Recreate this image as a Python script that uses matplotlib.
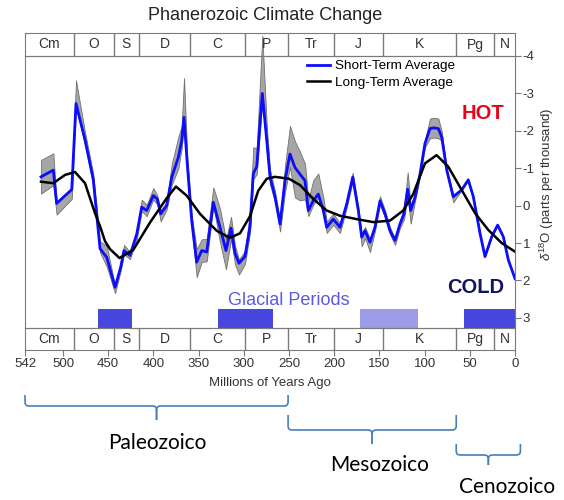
import numpy as np
import matplotlib.pyplot as plt
from matplotlib.path import Path
from matplotlib.patches import PathPatch

plt.rcParams['font.family'] = ['Liberation Sans', 'DejaVu Sans']
plt.rcParams['axes.unicode_minus'] = False
plt.rcParams['mathtext.fontset'] = 'custom'
plt.rcParams['mathtext.rm'] = 'Liberation Sans'
plt.rcParams['mathtext.it'] = 'Liberation Sans:italic'

# geologic periods (Ma)
periods = ['Cm', 'O', 'S', 'D', 'C', 'P', 'Tr', 'J', 'K', 'Pg', 'N']
period_bounds = [542, 488, 444, 416, 359, 299, 251, 200, 146, 65, 23, 0]

# short-term average of d18O, with the width of the grey band above/below
short_age = [524.3, 510.7, 507.0, 490.3, 485.6, 475.6, 466.5, 459.0, 451.6, 442.4,
             436.1, 432.5, 425.9, 418.4, 412.9, 407.4, 400.1, 395.7, 391.9, 385.3,
             379.7, 372.4, 368.7, 366.1, 362.5, 357.6, 352.1, 346.5, 341.0, 333.7,
             326.3, 319.7, 314.1, 309.7, 305.3, 298.7, 293.1, 289.5, 285.7, 279.5,
             274.6, 271.0, 265.5, 259.9, 254.4, 248.9, 243.4, 237.8, 232.3, 228.6,
             223.1, 217.6, 212.0, 208.3, 201.0, 193.6, 186.2, 179.5, 173.3, 169.6,
             165.9, 160.4, 154.9, 149.3, 143.8, 138.3, 132.7, 127.2, 122.8, 118.7,
             115.4, 110.6, 105.1, 99.6, 94.0, 89.6, 84.8, 81.1, 75.5, 68.3,
             59.0, 51.7, 46.1, 38.7, 33.2, 25.8, 19.2, 12.9, 7.4, 0.0]
short_val = [-0.77, -0.95, -0.06, -0.43, -2.73, -1.76, -0.70, 1.15, 1.38, 2.18,
             1.64, 1.20, 1.33, 0.76, 0.04, 0.13, -0.27, -0.18, 0.22, 0.00,
             -0.76, -1.29, -1.73, -2.36, -1.11, 0.40, 1.51, 1.20, 1.24, -0.09,
             0.58, 1.20, 0.60, 1.27, 1.54, 1.36, 0.56, -0.86, -1.04, -3.00,
             -1.75, -0.77, -0.24, 0.49, -0.67, -1.38, -1.02, -0.84, -0.67, 0.13,
             -0.13, -0.31, 0.13, 0.58, 0.36, 0.58, -0.04, -0.76, 0.13, 0.84,
             0.67, 0.98, 0.58, -0.13, 0.22, 0.67, 0.93, 0.49, 0.22, -0.44,
             0.13, -0.22, -0.84, -1.66, -2.06, -2.08, -2.06, -1.84, -0.95, -0.24,
             -0.42, -0.69, -0.24, 0.74, 1.36, 0.83, 0.52, 0.83, 1.45, 1.95]
band_up = [0.45, 0.45, 0.05, 0.05, 0.62, 0.20, 0.15, 0.20, 0.30, 0.05,
           0.10, 0.15, 0.10, 0.10, 0.20, 0.15, 0.20, 0.10, 0.10, 0.10,
           0.35, 0.55, 0.40, 1.05, 0.20, 0.15, 0.35, 0.30, 0.35, 0.40,
           0.50, 0.30, 0.30, 0.20, 0.10, 0.15, 0.40, 0.70, 0.50, 1.55,
           0.40, 0.20, 0.15, 0.10, 0.40, 0.75, 0.70, 0.60, 0.45, 0.30,
           0.55, 0.55, 0.35, 0.15, 0.15, 0.10, 0.10, 0.12, 0.10, 0.10,
           0.10, 0.10, 0.10, 0.12, 0.10, 0.10, 0.05, 0.10, 0.15, 0.45,
           0.15, 0.10, 0.05, 0.10, 0.27, 0.27, 0.27, 0.15, 0.05, 0.05,
           0.0, 0.0, 0.0, 0.0, 0.0, 0.0, 0.0, 0.0, 0.0, 0.0]
band_dn = [0.45, 0.40, 0.30, 0.25, 0.10, 0.15, 0.15, 0.10, 0.25, 0.16,
           0.10, 0.10, 0.10, 0.15, 0.10, 0.15, 0.10, 0.15, 0.20, 0.10,
           0.20, 0.30, 0.20, 0.10, 0.20, 0.20, 0.40, 0.30, 0.25, 0.10,
           0.40, 0.50, 0.30, 0.30, 0.30, 0.20, 0.15, 0.15, 0.20, 0.20,
           0.30, 0.20, 0.15, 0.20, 0.30, 0.35, 0.80, 0.70, 0.50, 0.15,
           0.10, 0.10, 0.10, 0.15, 0.15, 0.15, 0.10, 0.10, 0.10, 0.25,
           0.20, 0.26, 0.10, 0.10, 0.10, 0.10, 0.12, 0.10, 0.15, 0.20,
           0.35, 0.10, 0.05, 0.10, 0.26, 0.26, 0.26, 0.10, 0.10, 0.15,
           0.0, 0.0, 0.0, 0.0, 0.0, 0.0, 0.0, 0.0, 0.0, 0.0]

# long-term average
long_age = [524.3, 510.7, 497.8, 486.7, 475.6, 464.6, 459.0, 453.5, 448.0, 437.5,
            422.2, 403.7, 385.3, 375.0, 363.2, 348.4, 330.0, 315.5, 304.2, 293.1,
            284.0, 274.6, 265.5, 250.0, 237.8, 223.1, 208.3, 193.6, 175.1, 156.7,
            138.3, 123.6, 112.6, 99.6, 86.7, 73.8, 59.0, 44.2, 29.5, 14.7, 0.0]
long_val = [-0.64, -0.60, -0.82, -0.90, -0.60, 0.20, 0.55, 0.95, 1.16, 1.40,
            1.18, 0.45, -0.20, -0.51, -0.27, 0.22, 0.67, 0.86, 0.74, 0.28,
            -0.40, -0.72, -0.77, -0.72, -0.55, -0.18, 0.13, 0.27, 0.36, 0.44,
            0.40, 0.13, -0.31, -1.13, -1.35, -1.04, -0.42, 0.20, 0.65, 1.00, 1.23]

# glacial periods
glacial_start = [461, 328, 172, 56]
glacial_end = [424, 268, 107, 0]
glacial_colors = ['#4747e0', '#4747e0', '#9c9ce8', '#4747e0']

# eras drawn under the chart
eras = ['Paleozoico', 'Mesozoico', 'Cenozoico']
brace_left = [542, 251, 65]
brace_right = [251, 65, -6]

xticks = [542, 500, 450, 400, 350, 300, 250, 200, 150, 100, 50, 0]
yticks = [-4, -3, -2, -1, 0, 1, 2, 3]

W, H = 564, 500
def box(l, t, r, b):
    return [l / W, 1 - b / H, (r - l) / W, (b - t) / H]

gray = '#7a7a7a'
txt = '#333333'

fig = plt.figure(figsize=(W / 100, H / 100), dpi=100)
ax = fig.add_axes(box(25, 56, 515, 328))
ax_top = fig.add_axes(box(25, 33, 515, 56))
ax_bot = fig.add_axes(box(25, 328, 515, 350))

sv = np.array(short_val)
ax.fill_between(short_age, sv - np.array(band_up), sv + np.array(band_dn),
                facecolor='#a6a6a6', edgecolor='#707070', lw=0.6, clip_on=False)
ax.plot(short_age, short_val, color='#0c0cff', lw=2.0, solid_joinstyle='round',
        label='Short-Term Average')
ax.plot(long_age, long_val, color='black', lw=1.8, solid_joinstyle='round',
        label='Long-Term Average')

ybot = 3.27
ax.bar(glacial_end, ybot - 2.77, width=np.subtract(glacial_start, glacial_end),
       bottom=2.77, align='edge', color=glacial_colors, lw=0)

ax.set_xlim(542, 0)
ax.set_ylim(ybot, -4)
ax.set_xticks([])
ax.yaxis.tick_right()
ax.set_yticks(yticks)
ax.tick_params(axis='y', direction='out', length=4, color=gray, labelsize=9.5,
               labelcolor=txt, pad=1.5)
for s in ax.spines.values():
    s.set_color(gray)

ax.legend(loc='upper left', bbox_to_anchor=(307 / W, 1 - 60 / H),
          bbox_transform=fig.transFigure, frameon=False, fontsize=9.7,
          handlelength=1.7, handletextpad=0.4, labelspacing=0.3,
          borderpad=0, borderaxespad=0)

ax.text(35, -2.46, 'HOT', color='#e8001c', fontsize=14.5, fontweight='bold',
        ha='center', va='center')
ax.text(44, 2.19, 'COLD', color='#14145e', fontsize=14.5, fontweight='bold',
        ha='center', va='center')
ax.text(250, 2.54, 'Glacial Periods', color='#5a5ae6', fontsize=13,
        ha='center', va='center')

# period bands above and below
mids = [(a + b) / 2 for a, b in zip(period_bounds[:-1], period_bounds[1:])]
for band in (ax_top, ax_bot):
    band.set_facecolor('none')
    band.set_xlim(542, 0)
    band.set_ylim(0, 1)
    band.set_yticks([])
    for s in band.spines.values():
        s.set_color(gray)
    for b in period_bounds[1:-1]:
        band.axvline(b, color=gray, lw=1)
    for name, m in zip(periods, mids):
        band.text(m, 0.5, name, ha='center', va='center', fontsize=10, color=txt)
ax_top.set_xticks([])
ax_bot.set_xticks(xticks)
ax_bot.tick_params(axis='x', direction='out', length=4, color=gray,
                   labelsize=9.5, labelcolor=txt, pad=2)

fig.text(265 / W, 1 - 15 / H, 'Phanerozoic Climate Change', ha='center',
         va='center', fontsize=13, color='#222222')
fig.text(270 / W, 1 - 383 / H, 'Millions of Years Ago', ha='center',
         va='center', fontsize=9.5, color=txt)
fig.text(547 / W, 1 - 184 / H, r'$\delta^{18}$O (parts per thousand)',
         rotation=90, ha='center', va='center', fontsize=9.5, color=txt)

# era braces
ax_era = fig.add_axes([25 / W, 0, 490 / W, 118 / H])
ax_era.set_xlim(542, 0)
ax_era.set_ylim(500, 382)
ax_era.axis('off')
k = 542 / 490

def brace(a0, a1, top, mid, tip, r=4):
    am = (a0 + a1) / 2
    for a, sgn in ((a0, 1), (a1, -1)):
        verts = [(a, top), (a, mid - r), (a, mid), (a - sgn * r * k, mid),
                 (am + sgn * r * k, mid), (am, mid), (am, mid + r), (am, tip)]
        codes = [Path.MOVETO, Path.LINETO, Path.CURVE3, Path.CURVE3,
                 Path.LINETO, Path.CURVE3, Path.CURVE3, Path.LINETO]
        ax_era.add_patch(PathPatch(Path(verts, codes), fill=False,
                                   edgecolor='#4a7ebb', lw=1.2, clip_on=False))

brace_rows = [(395, 406, 420), (415, 430, 444), (444, 455, 465)]
label_pos = [(396, 443), (150, 465), (9, 487)]
for name, a0, a1, rows, (lx, ly) in zip(eras, brace_left, brace_right,
                                        brace_rows, label_pos):
    brace(a0, a1, *rows)
    ax_era.text(lx, ly, name, ha='center', va='center', fontsize=15,
                family=['Lato', 'DejaVu Sans'], color='black', clip_on=False)

fig.savefig('out.png', dpi=100)
